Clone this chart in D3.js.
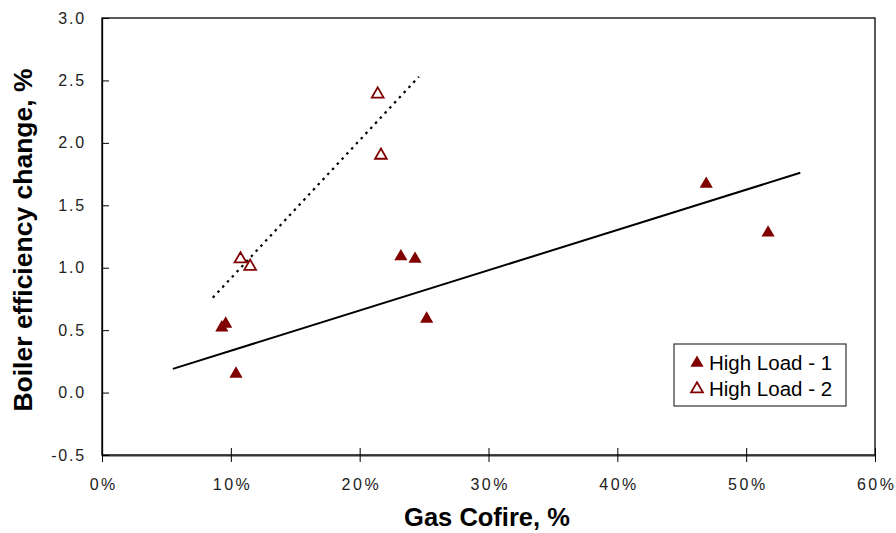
<!DOCTYPE html>
<html>
<head>
<meta charset="utf-8">
<script src="https://cdn.jsdelivr.net/npm/d3@7"></script>
<style>
  body { margin: 0; background: #fff; }
  svg { font-family: Arial, "Liberation Sans", sans-serif; }
</style>
</head>
<body>
<svg id="chart" width="896" height="533"></svg>
<script>
// series 1 - High Load - 1 (filled triangles)
var load1Cofire = [9.3, 9.6, 10.4, 23.2, 24.3, 25.2, 46.9, 51.7];
var load1Eff = [0.52, 0.55, 0.15, 1.09, 1.07, 0.59, 1.67, 1.28];
// series 2 - High Load - 2 (open triangles)
var load2Cofire = [10.75, 11.5, 21.4, 21.65];
var load2Eff = [1.07, 1.01, 2.39, 1.90];
// trend lines [x%, y]
var trend1 = [[5.5, 0.19], [54.2, 1.76]];
var trend2 = [[8.6, 0.76], [24.6, 2.53]];

var xTicks = [0, 10, 20, 30, 40, 50, 60];
var yTicks = [-0.5, 0, 0.5, 1, 1.5, 2, 2.5, 3];
var legendLabels = ["High Load - 1", "High Load - 2"];

var svg = d3.select("#chart");
var plotLeft = 102, plotRight = 875, plotTop = 18, plotBottom = 455;

var x = d3.scaleLinear().domain([0, 60]).range([plotLeft, plotRight]);
var y = d3.scaleLinear().domain([-0.5, 3]).range([plotBottom, plotTop]);

// plot frame
svg.append("rect")
  .attr("x", plotLeft).attr("y", plotTop)
  .attr("width", plotRight - plotLeft).attr("height", plotBottom - plotTop)
  .attr("fill", "none").attr("stroke", "#000").attr("stroke-width", 1.3);

// x axis
var xAxis = d3.axisBottom(x).tickValues(xTicks)
  .tickFormat(function(d){ return d + "%"; })
  .tickSizeInner(7).tickSizeOuter(0).tickPadding(17);
var gx = svg.append("g").attr("transform", "translate(0," + plotBottom + ")").call(xAxis);
gx.select(".domain").attr("stroke", "#333").attr("stroke-width", 2);
gx.selectAll(".tick line").attr("y1", -7).attr("stroke", "#000");
gx.selectAll("text").attr("font-size", 16).attr("letter-spacing", 2.5)
  .attr("dx", 1.2)
  .attr("fill", "#222").attr("font-family", "Arial, 'Liberation Sans', sans-serif");

// y axis (plain hyphen for the negative label, like the original)
var yAxis = d3.axisLeft(y).tickValues(yTicks)
  .tickFormat(function(d){ return d.toFixed(1); })
  .tickSizeInner(6).tickSizeOuter(0).tickPadding(10);
var gy = svg.append("g").attr("transform", "translate(" + plotLeft + ",0)").call(yAxis);
gy.select(".domain").attr("stroke", "#000").attr("stroke-width", 1.3);
gy.selectAll(".tick line").attr("x2", 7).attr("stroke", "#000");
gy.selectAll("text").attr("font-size", 16).attr("letter-spacing", 1.8)
  .attr("x", -16)
  .attr("fill", "#222").attr("font-family", "Arial, 'Liberation Sans', sans-serif");

// axis titles
svg.append("text")
  .attr("x", 487).attr("y", 526)
  .attr("text-anchor", "middle")
  .attr("font-size", 25.5).attr("font-weight", "bold")
  .text("Gas Cofire, %");

svg.append("text")
  .attr("transform", "translate(32,240) rotate(-90)")
  .attr("text-anchor", "middle")
  .attr("font-size", 26.5).attr("font-weight", "bold")
  .text("Boiler efficiency change, %");

// trend lines
var line = d3.line().x(function(d){ return x(d[0]); }).y(function(d){ return y(d[1]); });
svg.append("path").datum(trend1).attr("d", line)
  .attr("fill", "none").attr("stroke", "#000").attr("stroke-width", 2);
svg.append("path").datum(trend2).attr("d", line)
  .attr("fill", "none").attr("stroke", "#000").attr("stroke-width", 2.2)
  .attr("stroke-dasharray", "2.5,4.5");

var red = "#800000";
var triFilled = d3.symbol().type(d3.symbolTriangle).size(75);
var triOpen = d3.symbol().type(d3.symbolTriangle).size(60);

svg.append("g").selectAll("path")
  .data(load1Cofire.map(function(c, i){ return [c, load1Eff[i]]; }))
  .join("path")
  .attr("d", triFilled)
  .attr("transform", function(d){ return "translate(" + x(d[0]) + "," + y(d[1]) + ")"; })
  .attr("fill", red);

svg.append("g").selectAll("path")
  .data(load2Cofire.map(function(c, i){ return [c, load2Eff[i]]; }))
  .join("path")
  .attr("d", triOpen)
  .attr("transform", function(d){ return "translate(" + x(d[0]) + "," + y(d[1]) + ")"; })
  .attr("fill", "#fff").attr("stroke", red).attr("stroke-width", 1.8);

// legend
var lg = svg.append("g").attr("transform", "translate(674,344)");
lg.append("rect").attr("width", 172).attr("height", 62)
  .attr("fill", "#fff").attr("stroke", "#333").attr("stroke-width", 1.2);
legendLabels.forEach(function(lbl, i){
  var cy = 19 + i * 26;
  var m = lg.append("path")
    .attr("transform", "translate(23," + cy + ")");
  if (i === 0) m.attr("d", triFilled).attr("fill", red);
  else m.attr("d", triOpen).attr("fill", "#fff").attr("stroke", red).attr("stroke-width", 1.8);
  lg.append("text").attr("x", 35).attr("y", cy + 7)
    .attr("font-size", 20.5).attr("fill", "#000")
    .text(lbl);
});
</script>
</body>
</html>
